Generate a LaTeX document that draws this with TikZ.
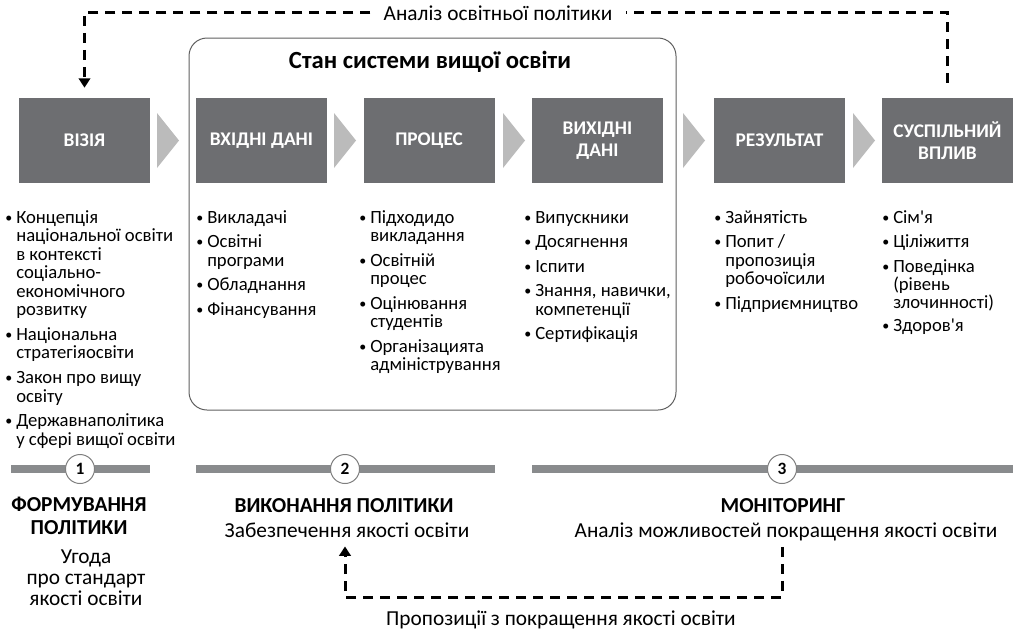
\documentclass[tikz,border=0pt]{standalone}
\usepackage{fontspec}
\setmainfont{Carlito}
\usepackage{xcolor}
\usepackage{graphicx}
\usetikzlibrary{arrows.meta}

\definecolor{boxgray}{HTML}{6D6E71}
\definecolor{chevgray}{HTML}{BBBBBB}
\definecolor{bargray}{HTML}{898B8D}
\definecolor{framegray}{HTML}{5F5F5F}
\definecolor{circgray}{HTML}{7F7F7F}

\newlength{\px}\setlength{\px}{0.75pt}
\newcommand{\bul}{\makebox[11\px][l]{\raisebox{0.8pt}{\scalebox{0.75}{\textbullet}}}}

\begin{document}
\begin{tikzpicture}[x=0.75pt, y=-0.75pt,
        stage/.style = {fill=boxgray, text=white, minimum width=131\px, minimum height=85\px,
                        inner sep=0, align=center, font=\bfseries\fontsize{14.5}{16.5}\selectfont},
        chev/.style = {fill=chevgray},
        frame/.style = {draw=framegray, line width=1\px, rounded corners=18\px},
        items/.style = {anchor=north west, inner sep=0, font=\fontsize{14}{13.9}\selectfont},
        bar/.style = {draw=bargray, line width=8\px},
        num/.style = {circle, draw=circgray, fill=white, line width=1\px, minimum size=29\px,
                      inner sep=0, font=\bfseries\fontsize{13}{13}\selectfont},
        head/.style = {anchor=base, inner sep=0, align=center, font=\bfseries\fontsize{16}{17}\selectfont},
        sub/.style = {anchor=base, inner sep=0, align=center, font=\fontsize{16}{15.5}\selectfont},
        fb/.style = {line width=3\px, dash pattern=on 10\px off 7\px},
        lbl/.style = {anchor=base, inner ysep=0, inner xsep=13\px, font=\fontsize{16}{17}\selectfont}]
    \useasboundingbox (0,0) rectangle (1014,632);

    % state of the system frame
    \draw[frame] (189,38) rectangle (676,410);
    \node[anchor=base, font=\bfseries\fontsize{18.5}{20}\selectfont] (sys) at (430,68) {Стан системи вищої освіти};

    % stages
    \node[stage] (vis)  at (84.5,140.5)  {ВІЗІЯ};
    \node[stage] (inp)  at (261.5,140.5) {ВХІДНІ ДАНІ};
    \node[stage] (proc) at (429,140.5)   {ПРОЦЕС};
    \node[stage] (outp) at (597.5,140.5) {ВИХІДНІ\\ДАНІ};
    \node[stage] (res)  at (779.5,140.5) {РЕЗУЛЬТАТ};
    \node[stage] (imp)  at (947.5,140.5) {СУСПІЛЬНИЙ\\ВПЛИВ};
    \foreach \x in {157,334,503,683,853}
        \fill[chev] (\x,113) -- (\x+22,140.5) -- (\x,168) -- cycle;

    % item lists
    \node[items] (vislist) at (5,210) {\begin{tabular}{@{}l@{}l@{}}
        \bul & Концепція\\ & національної освіти\\ & в контексті\\ & соціально-\\ & економічного\\ & розвитку\\[6\px]
        \bul & Національна\\ & стратегіяосвіти\\[6\px]
        \bul & Закон про вищу\\ & освіту\\[6\px]
        \bul & Державнаполітика\\ & у сфері вищої освіти
        \end{tabular}};
    \node[items] (inplist) at (196,210) {\begin{tabular}{@{}l@{}l@{}}
        \bul & Викладачі\\[6\px]
        \bul & Освітні\\ & програми\\[6\px]
        \bul & Обладнання\\[6\px]
        \bul & Фінансування
        \end{tabular}};
    \node[items] (proclist) at (359,210) {\begin{tabular}{@{}l@{}l@{}}
        \bul & Підходидо\\ & викладання\\[6\px]
        \bul & Освітній\\ & процес\\[6\px]
        \bul & Оцінювання\\ & студентів\\[6\px]
        \bul & Організацията\\ & адміністрування
        \end{tabular}};
    \node[items] (outplist) at (524,210) {\begin{tabular}{@{}l@{}l@{}}
        \bul & Випускники\\[6\px]
        \bul & Досягнення\\[6\px]
        \bul & Іспити\\[6\px]
        \bul & Знання, навички,\\ & компетенції\\[6\px]
        \bul & Сертифікація
        \end{tabular}};
    \node[items] (reslist) at (714,210) {\begin{tabular}{@{}l@{}l@{}}
        \bul & Зайнятість\\[6\px]
        \bul & Попит /\\ & пропозиція\\ & робочоїсили\\[6\px]
        \bul & Підприємництво
        \end{tabular}};
    \node[items] (implist) at (882,210) {\begin{tabular}{@{}l@{}l@{}}
        \bul & Сім\textquotesingle я\\[6\px]
        \bul & Ціліжиття\\[6\px]
        \bul & Поведінка\\[-1\px] & (рівень\\[-1\px] & злочинності)\\[4\px]
        \bul & Здоров\textquotesingle я
        \end{tabular}};

    % phases
    \foreach \l/\r/\c/\n in {11/150/80/1, 196/495/345/2, 532/1013/782/3} {
        \draw[bar] (\l,469) -- (\r,469);
        \node[num] (c\n) at (\c,469) {\n};
    }
    \node[head] (form) at (79,534)  {ФОРМУВАННЯ\\ПОЛІТИКИ};
    \node[sub]  (agr)  at (86,605)  {Угода\\про стандарт\\якості освіти};
    \node[head] (exe)  at (344,512) {ВИКОНАННЯ ПОЛІТИКИ};
    \node[sub]  (zab)  at (347,537) {Забезпечення якості освіти};
    \node[head] (mon)  at (783,512) {МОНІТОРИНГ};
    \node[sub]  (anl)  at (786,537) {Аналіз можливостей покращення якості освіти};

    % feedback loops
    \node[lbl] (toplbl) at (498,20) {Аналіз освітньої політики};
    \draw[fb] ([yshift=15\px]imp.north) |- (toplbl.east);
    \draw[fb, -{Triangle[width=8.5pt,length=7pt]}] (toplbl.west) -| ([yshift=10\px]vis.north);

    \node[lbl] (botlbl) at (561,625) {Пропозиції з покращення якості освіти};
    \coordinate (fbot) at (0,597);
    \coordinate (m1) at (c3 |- anl.south);
    \coordinate (z1) at (c2 |- zab.south);
    \draw[fb, -{Triangle[width=8.5pt,length=7pt]}] ([yshift=-6\px]m1) |- (fbot -| c2) -- ([yshift=-9\px]z1);
\end{tikzpicture}
\end{document}
